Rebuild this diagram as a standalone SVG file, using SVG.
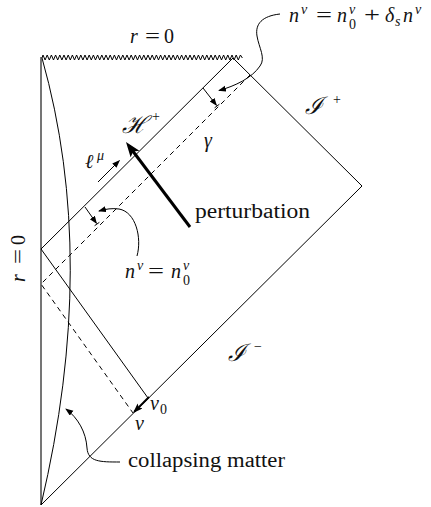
<svg xmlns="http://www.w3.org/2000/svg" width="431" height="507" viewBox="0 0 431 507">
<style>
.ln{stroke:#000;stroke-width:1;fill:none}
.ds{stroke-dasharray:5 4}
.t{font-family:'Liberation Serif',serif;font-size:20px;fill:#111}
.mi{font-style:italic}
.s{font-size:14px}
.sc{font-family:'DejaVu Serif',serif;font-size:24px;font-style:italic;fill:#111}
</style>
<defs>
<marker id="a" markerUnits="userSpaceOnUse" markerWidth="9" markerHeight="7" refX="7" refY="3" orient="auto"><path d="M0,0 L8,3 L0,6 z" fill="#000"/></marker>
<marker id="b" markerUnits="userSpaceOnUse" markerWidth="11" markerHeight="9" refX="8" refY="3.5" orient="auto"><path d="M0,0 L10,3.5 L0,7 L2,3.5 z" fill="#000"/></marker>
<marker id="c" markerUnits="userSpaceOnUse" markerWidth="16" markerHeight="12" refX="10" refY="5.5" orient="auto"><path d="M0,0 L15,5.5 L0,11 L3,5.5 z" fill="#000"/></marker>
</defs>

<g id="spacetime">
<line x1="41" y1="57" x2="41" y2="505" stroke="#666" stroke-width="1.8"/>
<path class="ln" d="M233,58 L362,186 L41,505"/>
<path class="ln" stroke-linejoin="round" d="M42,58 l1,-3 l2.1,5 l2.1,-5 l2.1,5 l2.1,-5 l2.1,5 l2.1,-5 l2.1,5 l2.1,-5 l2.1,5 l2.1,-5 l2.1,5 l2.1,-5 l2.1,5 l2.1,-5 l2.1,5 l2.1,-5 l2.1,5 l2.1,-5 l2.1,5 l2.1,-5 l2.1,5 l2.1,-5 l2.1,5 l2.1,-5 l2.1,5 l2.1,-5 l2.1,5 l2.1,-5 l2.1,5 l2.1,-5 l2.1,5 l2.1,-5 l2.1,5 l2.1,-5 l2.1,5 l2.1,-5 l2.1,5 l2.1,-5 l2.1,5 l2.1,-5 l2.1,5 l2.1,-5 l2.1,5 l2.1,-5 l2.1,5 l2.1,-5 l2.1,5 l2.1,-5 l2.1,5 l2.1,-5 l2.1,5 l2.1,-5 l2.1,5 l2.1,-5 l2.1,5 l2.1,-5 l2.1,5 l2.1,-5 l2.1,5 l2.1,-5 l2.1,5 l2.1,-5 l2.1,5 l2.1,-5 l2.1,5 l2.1,-5 l2.1,5 l2.1,-5 l2.1,5 l2.1,-5 l2.1,5 l2.1,-5 l2.1,5 l2.1,-5 l2.1,5 l2.1,-5 l2.1,5 l2.1,-5 l2.1,5 l2.1,-5 l2.1,5 l2.1,-5 l2.1,5 l2.1,-5 l2.1,5 l2.1,-5 l2.1,5 l2.1,-5 l2.1,5 l2.1,-5 l2.1,5 l2.1,-5 l2.1,5 l2.1,-5 l2,3"/>
<path class="ln" d="M41,249 L233,58"/>
<path class="ln" d="M41,249 L148,398"/>
<path class="ln ds" d="M250,75 L41,284 L133,413"/>
<path class="ln" d="M42,58 Q99,260 41,505"/>
</g>

<g id="connectors">
<line class="ln" x1="203" y1="88" x2="216.4" y2="105.2" marker-end="url(#a)"/>
<line class="ln" x1="214.6" y1="107.8" x2="219.4" y2="104.2"/>
<line class="ln" x1="85" y1="207" x2="96.4" y2="223.2" marker-end="url(#a)"/>
<line class="ln" x1="94.6" y1="225.7" x2="99.4" y2="222.3"/>
<line class="ln" x1="98" y1="182" x2="119.3" y2="160.7" marker-end="url(#a)"/>
<line x1="190" y1="227" x2="129" y2="146" stroke="#000" stroke-width="3" marker-end="url(#c)"/>
<line x1="149" y1="397" x2="134.4" y2="411.6" stroke="#000" stroke-width="2" marker-end="url(#b)"/>
<path class="ln" d="M280,14 C262,16 255,24 257,36 C259,48 266,58 260,66 C252,78 235,86 219,90.5" marker-end="url(#a)"/>
<path class="ln" d="M137,256 C142,238 136,212 119,209 C112,208 106,209 99,211" marker-end="url(#a)"/>
<path class="ln" d="M120,462 C100,462 88,462 87,448 C86,432 78,418 66,409" marker-end="url(#a)"/>
</g>

<g id="labels">
<text class="t"><tspan class="mi" x="130" y="43">r</tspan><tspan x="145" y="43" textLength="15" lengthAdjust="spacingAndGlyphs">=</tspan><tspan x="164" y="43">0</tspan></text>
<text class="t" transform="translate(25,282) rotate(-90)"><tspan class="mi" x="0" y="0">r</tspan><tspan x="18" y="0" textLength="15" lengthAdjust="spacingAndGlyphs">=</tspan><tspan x="37" y="0">0</tspan></text>

<text class="t mi" x="289" y="22">n</text>
<text class="t mi s" x="301" y="14">ν</text>
<text class="t" x="316" y="22" textLength="16" lengthAdjust="spacingAndGlyphs">=</text>
<text class="t mi" x="337" y="22">n</text>
<text class="t mi s" x="349" y="14">ν</text>
<text class="t s" x="349" y="29">0</text>
<text class="t" x="364" y="22" textLength="16" lengthAdjust="spacingAndGlyphs">+</text>
<text class="t mi" x="385" y="22">δ</text>
<text class="t mi s" x="395" y="26">s</text>
<text class="t mi" x="403" y="22">n</text>
<text class="t mi s" x="415" y="14">ν</text>

<text class="t mi" x="125" y="278">n</text>
<text class="t mi s" x="137" y="270">ν</text>
<text class="t" x="148" y="278" textLength="16" lengthAdjust="spacingAndGlyphs">=</text>
<text class="t mi" x="171" y="278">n</text>
<text class="t mi s" x="183" y="270">ν</text>
<text class="t s" x="183" y="285">0</text>

<text class="sc" x="122" y="133">ℋ</text>
<text class="t s" x="152" y="121">+</text>
<text class="sc" x="305" y="114">ℐ</text>
<text class="t s" x="333" y="104">+</text>
<text class="sc" x="228" y="361">ℐ</text>
<text class="t s" x="254" y="351">−</text>

<text class="t mi" x="204" y="147">γ</text>
<text class="t mi" x="85" y="168">ℓ</text>
<text class="t mi s" x="97" y="160">μ</text>
<text class="t mi" x="150" y="410">v</text>
<text class="t s" x="160" y="414">0</text>
<text class="t mi" x="135" y="430">v</text>

<text class="t" x="195" y="218" textLength="115" lengthAdjust="spacingAndGlyphs">perturbation</text>
<text class="t" x="128" y="467" textLength="157" lengthAdjust="spacingAndGlyphs">collapsing matter</text>
</g>
</svg>
